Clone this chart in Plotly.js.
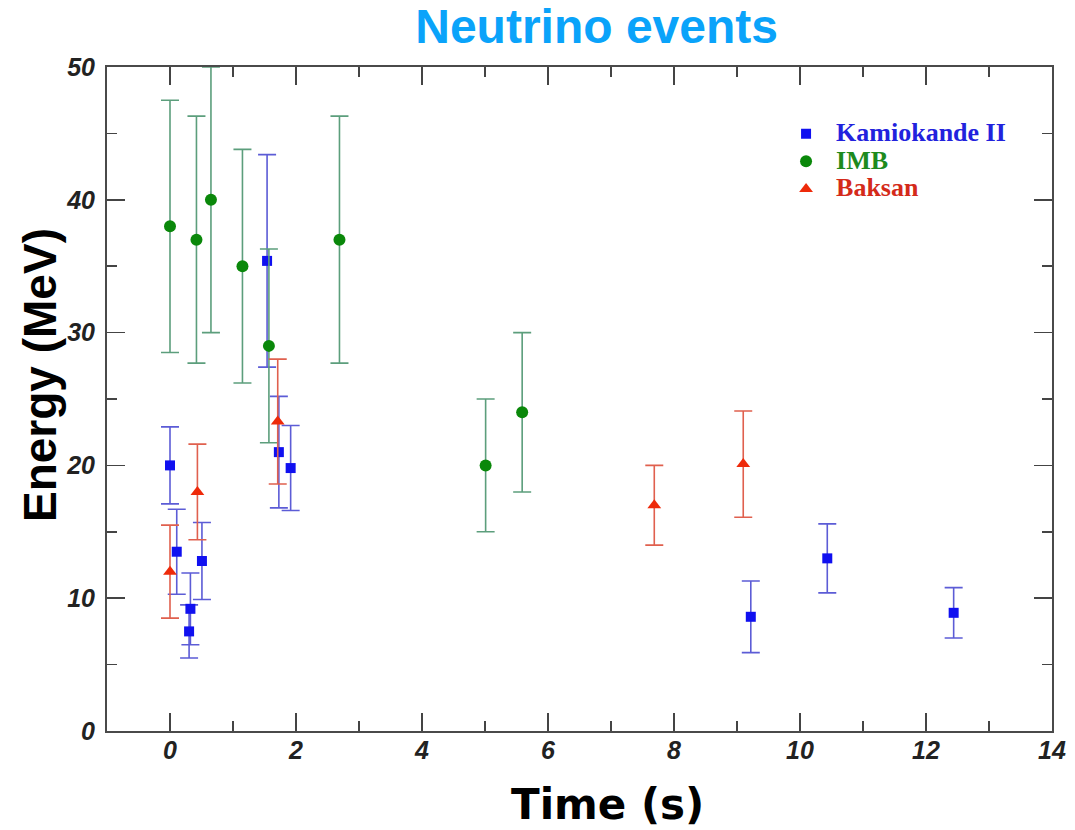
<!DOCTYPE html>
<html>
<head>
<meta charset="utf-8">
<script src="https://cdn.plot.ly/plotly-3.0.1.min.js"></script>
<style>html,body{margin:0;padding:0;background:#fff;}#chart{width:1075px;height:830px;}</style>
</head>
<body>
<div id="chart"></div>
<script>
// Kamiokande II
const kamTime = [0.0, 0.107, 0.303, 0.324, 0.507, 1.541, 1.728, 1.915, 9.219, 10.433, 12.439];
const kamEnergy = [20.0, 13.5, 7.5, 9.2, 12.8, 35.4, 21.0, 19.8, 8.6, 13.0, 8.9];
const kamErr = [2.9, 3.2, 2.0, 2.7, 2.9, 8.0, 4.2, 3.2, 2.7, 2.6, 1.9];
// IMB
const imbTime = [0.0, 0.42, 0.65, 1.15, 1.57, 2.69, 5.01, 5.59];
const imbEnergy = [38, 37, 40, 35, 29, 37, 20, 24];
const imbErr = [9.5, 9.3, 10.0, 8.8, 7.3, 9.3, 5.0, 6.0];
// Baksan
const bakTime = [0.0, 0.435, 1.71, 7.687, 9.099];
const bakEnergy = [12.0, 18.0, 23.3, 17.0, 20.1];
const bakErr = [3.5, 3.6, 4.7, 3.0, 4.0];

const seriesNames = ['Kamiokande II', 'IMB', 'Baksan'];
const legendColors = ['#2222dd', '#1d8a1d', '#d42a1a'];
const legendName = (i) => '<span style="font-size:26px;color:' + legendColors[i] + '">' + seriesNames[i] + '</span>';

const traces = [
  {
    x: kamTime, y: kamEnergy, type: 'scatter', mode: 'markers',
    name: legendName(0),
    marker: {symbol: 'square', size: 10, color: '#1010f0'},
    error_y: {type: 'data', array: kamErr, visible: true, color: '#5c5cd6', thickness: 1.6, width: 9}
  },
  {
    x: imbTime, y: imbEnergy, type: 'scatter', mode: 'markers',
    name: legendName(1),
    marker: {symbol: 'circle', size: 12, color: '#0a880a'},
    error_y: {type: 'data', array: imbErr, visible: true, color: '#5c9e7c', thickness: 1.6, width: 9}
  },
  {
    x: bakTime, y: bakEnergy, type: 'scatter', mode: 'markers',
    name: legendName(2),
    marker: {symbol: 'triangle-up', size: 12, color: '#ee2a0a'},
    error_y: {type: 'data', array: bakErr, visible: true, color: '#e0604e', thickness: 1.6, width: 9}
  }
];

const tickFont = {family: 'Liberation Sans, Arial, sans-serif', size: 25, weight: 'bold', style: 'italic', color: '#222'};

const layout = {
  width: 1075, height: 830,
  margin: {l: 107, r: 23, t: 67, b: 99},
  paper_bgcolor: '#ffffff', plot_bgcolor: '#ffffff',
  title: {
    text: 'Neutrino events',
    font: {family: 'Liberation Sans, Arial, sans-serif', size: 48, weight: 'bold', color: '#0aa3fa'},
    x: 0.555, xref: 'container', xanchor: 'center',
    y: 0.968, yref: 'container', yanchor: 'middle'
  },
  xaxis: {
    range: [-1, 14], tick0: 0, dtick: 2,
    showgrid: false, zeroline: false,
    showline: true, linecolor: '#4a4a4a', linewidth: 2, mirror: 'allticks',
    ticks: 'inside', ticklen: 18, tickwidth: 1.5, tickcolor: '#444',
    minor: {dtick: 1, ticks: 'inside', ticklen: 10, tickwidth: 1.5, tickcolor: '#444', showgrid: false},
    tickfont: tickFont, ticklabelstandoff: -4
  },
  yaxis: {
    range: [0, 50], tick0: 0, dtick: 10,
    showgrid: false, zeroline: false,
    showline: true, linecolor: '#4a4a4a', linewidth: 2, mirror: 'allticks',
    ticks: 'inside', ticklen: 18, tickwidth: 1.5, tickcolor: '#444',
    minor: {dtick: 5, ticks: 'inside', ticklen: 10, tickwidth: 1.5, tickcolor: '#444', showgrid: false},
    tickfont: tickFont, ticklabelstandoff: 5
  },
  legend: {
    x: 0.708, y: 0.928, xanchor: 'left', yanchor: 'top',
    bgcolor: 'rgba(0,0,0,0)', borderwidth: 0,
    font: {family: 'Liberation Serif, Times New Roman, serif', size: 19, weight: 'bold'},
    itemwidth: 50
  },
  showlegend: true,
  annotations: [
    {
      text: 'Energy (MeV)', textangle: -90, showarrow: false,
      xref: 'paper', yref: 'paper', x: -0.071, y: 0.536, xanchor: 'center', yanchor: 'middle',
      font: {family: 'Liberation Sans, Arial, sans-serif', size: 46, weight: 'bold', color: '#000'}
    },
    {
      text: 'Time (s)', showarrow: false,
      xref: 'paper', yref: 'paper', x: 0.53, y: -0.111, xanchor: 'center', yanchor: 'middle',
      font: {family: 'DejaVu Sans, Verdana, sans-serif', size: 42, weight: 'bold', color: '#000'}
    }
  ]
};

Plotly.newPlot('chart', traces, layout, {displayModeBar: false, staticPlot: true});
</script>
</body>
</html>
